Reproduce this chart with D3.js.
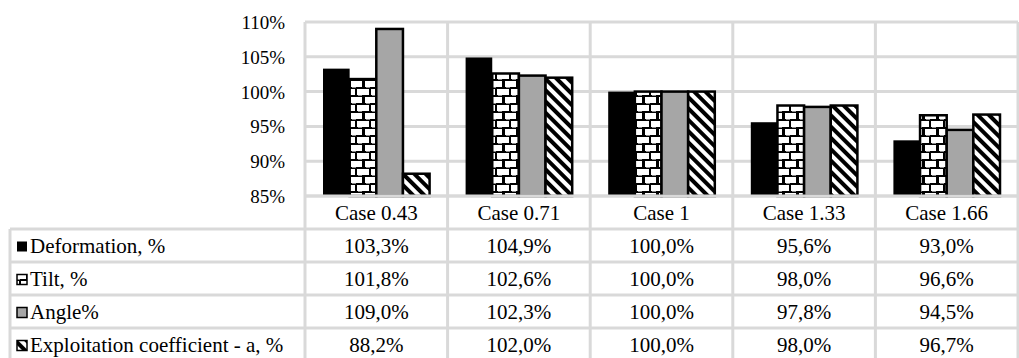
<!DOCTYPE html>
<html>
<head>
<meta charset="utf-8">
<script src="https://cdn.jsdelivr.net/npm/d3@7"></script>
<style>
html,body{margin:0;padding:0;background:#fff;}
svg{display:block;}
text{font-family:"Liberation Serif","Times New Roman",serif;fill:#000;}
</style>
</head>
<body>
<svg id="chart" width="1019" height="358"></svg>
<script>
const categories = ["Case 0.43", "Case 0.71", "Case 1", "Case 1.33", "Case 1.66"];
const seriesNames = ["Deformation, %", "Tilt, %", "Angle%", "Exploitation coefficient - a, %"];
const deformation = [103.3, 104.9, 100.0, 95.6, 93.0];
const tilt = [101.8, 102.6, 100.0, 98.0, 96.6];
const angle = [109.0, 102.3, 100.0, 97.8, 94.5];
const exploitation = [88.2, 102.0, 100.0, 98.0, 96.7];
const yTicks = [85, 90, 95, 100, 105, 110];

const seriesValues = [deformation, tilt, angle, exploitation];

const svg = d3.select("#chart");
const plotL = 305, plotR = 1018, plotT = 22, plotB = 196;
const tableL = 10, rowH = 33;
const grid = "#d9d9d9", gridW = 3;
const fontSize = 21;

// patterns
const defs = svg.append("defs");
const brick = defs.append("pattern").attr("id", "brick").attr("patternUnits", "userSpaceOnUse")
  .attr("width", 14).attr("height", 16);
brick.append("rect").attr("width", 14).attr("height", 16).attr("fill", "#000");
brick.append("rect").attr("x", 1).attr("y", 1).attr("width", 11).attr("height", 6).attr("fill", "#fff");
brick.append("rect").attr("x", 0).attr("y", 9).attr("width", 5).attr("height", 6).attr("fill", "#fff");
brick.append("rect").attr("x", 7).attr("y", 9).attr("width", 7).attr("height", 6).attr("fill", "#fff");
brick.append("rect").attr("x", 2).attr("y", 7).attr("width", 4).attr("height", 1).attr("fill", "#888");
brick.append("rect").attr("x", 8).attr("y", 15).attr("width", 4).attr("height", 1).attr("fill", "#888");

const hatch = defs.append("pattern").attr("id", "hatch").attr("patternUnits", "userSpaceOnUse")
  .attr("width", 8).attr("height", 8).attr("patternTransform", "rotate(-45)");
hatch.append("rect").attr("width", 8).attr("height", 8).attr("fill", "#fff");
hatch.append("rect").attr("x", 0).attr("width", 4).attr("height", 8).attr("fill", "#000");

const fills = ["#000", "url(#brick)", "#a6a6a6", "url(#hatch)"];
const strokeW = [0, 2.5, 2.5, 2.5];

// scales
const y = d3.scaleLinear().domain([85, 110]).range([plotB, plotT]);
const x0 = d3.scaleBand().domain(categories).range([plotL, plotR]).padding(0);
const x1 = d3.scaleBand().domain(d3.range(seriesNames.length)).range([18, x0.bandwidth() - 18]).padding(0);

// horizontal gridlines
svg.append("g").selectAll("line").data(yTicks).join("line")
  .attr("x1", plotL).attr("x2", plotR)
  .attr("y1", d => y(d)).attr("y2", d => y(d))
  .attr("stroke", grid).attr("stroke-width", gridW);

// table geometry
const tableTop = plotB;
const rowsTop = tableTop + rowH;
const tableBottom = rowsTop + rowH * seriesNames.length;

// vertical lines
const vx = categories.map(c => x0(c)).concat([plotR]);
svg.append("g").selectAll("line").data(vx).join("line")
  .attr("x1", d => d).attr("x2", d => d)
  .attr("y1", plotT).attr("y2", tableBottom)
  .attr("stroke", grid).attr("stroke-width", gridW);

svg.append("line").attr("x1", tableL).attr("x2", tableL).attr("y1", rowsTop).attr("y2", tableBottom)
  .attr("stroke", grid).attr("stroke-width", gridW);

const hy = d3.range(seriesNames.length + 1).map(i => rowsTop + i * rowH);
svg.append("g").selectAll("line").data(hy).join("line")
  .attr("x1", tableL).attr("x2", plotR)
  .attr("y1", d => d).attr("y2", d => d)
  .attr("stroke", grid).attr("stroke-width", gridW);

// bars
const barData = [];
categories.forEach((c, ci) => {
  seriesValues.forEach((vals, si) => barData.push({ c, si, v: vals[ci] }));
});
svg.append("g").selectAll("rect").data(barData).join("rect")
  .attr("x", d => x0(d.c) + x1(d.si))
  .attr("y", d => y(d.v))
  .attr("width", x1.bandwidth())
  .attr("height", d => y(85) - y(d.v))
  .attr("fill", d => fills[d.si])
  .attr("stroke", "#000")
  .attr("stroke-width", d => strokeW[d.si]);

svg.append("line").attr("x1", plotL).attr("x2", plotR).attr("y1", plotB).attr("y2", plotB)
  .attr("stroke", grid).attr("stroke-width", gridW);

// y tick labels
svg.append("g").selectAll("text").data(yTicks).join("text")
  .attr("x", 285).attr("y", d => y(d) + 7)
  .attr("text-anchor", "end")
  .attr("font-size", 19)
  .text(d => d + "%");

// category labels
svg.append("g").selectAll("text").data(categories).join("text")
  .attr("x", d => x0(d) + x0.bandwidth() / 2)
  .attr("y", tableTop + rowH / 2 + 7)
  .attr("text-anchor", "middle")
  .attr("font-size", fontSize)
  .text(d => d);

// table rows
const fmt = v => v.toFixed(1).replace(".", ",") + "%";
seriesNames.forEach((name, si) => {
  const ry = rowsTop + si * rowH;
  const cy = ry + rowH / 2;
  svg.append("rect").attr("x", 17).attr("y", cy - 4).attr("width", 10).attr("height", 10)
    .attr("fill", fills[si]).attr("stroke", "#000").attr("stroke-width", si === 0 ? 0 : 1.5);
  svg.append("text").attr("x", 30).attr("y", cy + 7)
    .attr("font-size", fontSize).text(name);
  svg.append("g").selectAll("text").data(seriesValues[si]).join("text")
    .attr("x", (d, i) => x0(categories[i]) + x0.bandwidth() / 2)
    .attr("y", cy + 7)
    .attr("text-anchor", "middle")
    .attr("font-size", fontSize)
    .text(d => fmt(d));
});
</script>
</body>
</html>
